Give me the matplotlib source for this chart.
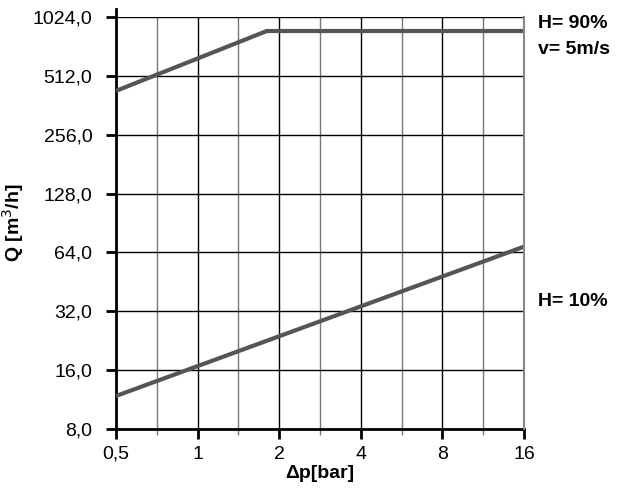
import numpy as np
import matplotlib.pyplot as plt
from matplotlib.ticker import FixedLocator, FixedFormatter, NullFormatter

plt.rcParams['font.family'] = ['Liberation Sans', 'DejaVu Sans']

# data
dp_90 = [0.5, 1.8, 16]
q_90 = [429, 868, 868]
dp_10 = [0.5, 16]
q_10 = [11.8, 68.5]

x_ticks = [0.5, 1, 2, 4, 8, 16]
x_labels = ['0,5', '1', '2', '4', '8', '16']
x_minor = [0.707, 1.414, 2.828, 5.657, 11.31]
y_ticks = [8, 16, 32, 64, 128, 256, 512, 1024]
y_labels = ['8,0', '16,0', '32,0', '64,0', '128,0', '256,0', '512,0', '1024,0']

fig = plt.figure(figsize=(6.22, 4.98), dpi=100)
ax = fig.add_axes([0.1865, 0.1386, 0.8424 - 0.1865, 0.9659 - 0.1386])

ax.plot(dp_90, q_90, color='#555555', lw=3, solid_capstyle='butt', zorder=4)
ax.plot(dp_10, q_10, color='#555555', lw=3, solid_capstyle='butt', zorder=4)

ax.set_xscale('log', base=2)
ax.set_yscale('log', base=2)
ax.set_xlim(0.5, 16)
ax.set_ylim(8, 1024)

ax.xaxis.set_major_locator(FixedLocator(x_ticks))
ax.xaxis.set_major_formatter(FixedFormatter(x_labels))
ax.xaxis.set_minor_locator(FixedLocator(x_minor))
ax.xaxis.set_minor_formatter(NullFormatter())
ax.yaxis.set_major_locator(FixedLocator(y_ticks))
ax.yaxis.set_major_formatter(FixedFormatter(y_labels))
ax.yaxis.set_minor_locator(FixedLocator([]))

ax.grid(which='major', axis='both', color='black', lw=1)
ax.grid(which='minor', axis='x', color='#777777', lw=1)

ax.tick_params(which='major', length=7, width=2, labelsize=14, colors='black', pad=5)
ax.tick_params(axis='y', which='major', pad=10)
ax.tick_params(which='minor', length=4, width=1, color='#777777')

ax.spines['left'].set_linewidth(2)
ax.spines['left'].set_bounds(8, 1130)
ax.spines['bottom'].set_linewidth(2)
ax.spines['top'].set_visible(False)
ax.spines['right'].set_color('#888888')
ax.spines['right'].set_linewidth(1.5)
ax.spines['right'].set_zorder(5)

ax.set_xlabel('Δp[bar]', fontsize=14, fontweight='bold', labelpad=2)
ax.set_ylabel('Q [m$^3$/h]', fontsize=14, fontweight='bold', labelpad=5)

fig.text(538 / 622, 1 - 24 / 498, 'H= 90%', fontsize=14, fontweight='bold', va='center')
fig.text(538 / 622, 1 - 50 / 498, 'v= 5m/s', fontsize=14, fontweight='bold', va='center')
fig.text(538 / 622, 1 - 302 / 498, 'H= 10%', fontsize=14, fontweight='bold', va='center')

fig.savefig('out.png', dpi=100)
